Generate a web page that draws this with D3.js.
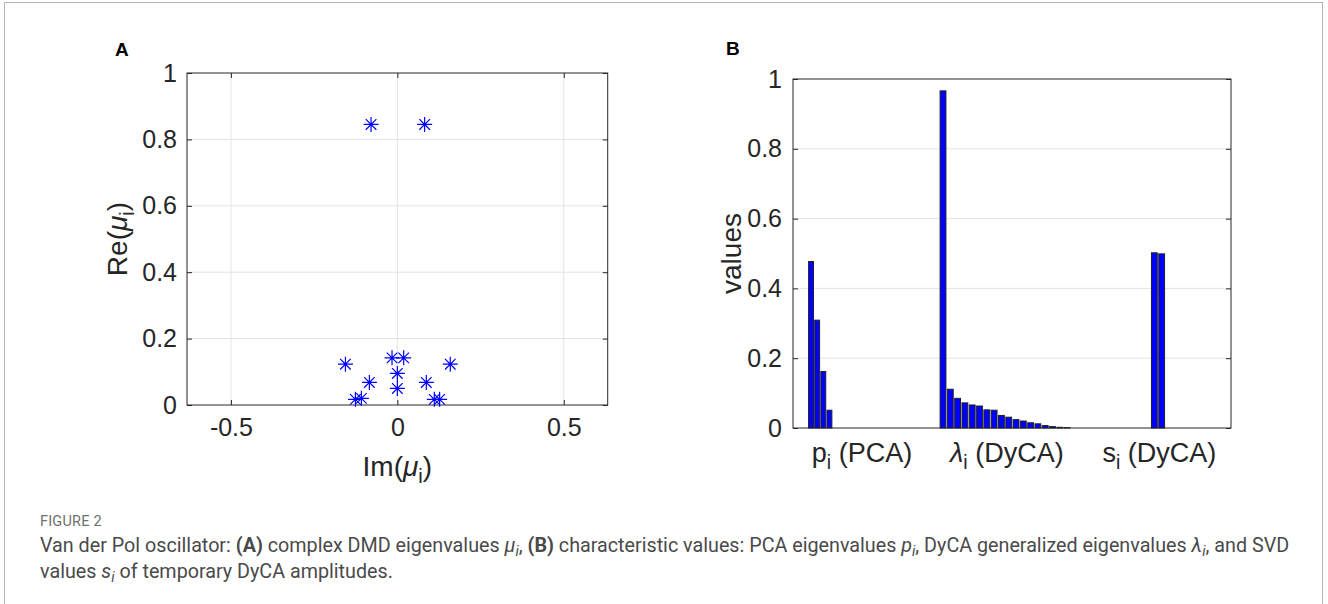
<!DOCTYPE html>
<html>
<head>
<meta charset="utf-8">
<script src="https://cdn.jsdelivr.net/npm/d3@7"></script>
<style>
  body { margin: 0; background: #fff; }
  svg { display: block; }
  .axis text { font-family: "Liberation Sans", Arial, Helvetica, sans-serif; fill: #262626; }
</style>
</head>
<body>
<div id="chart"></div>
<script>
"use strict";

// Panel A: complex DMD eigenvalues (x = imaginary part, y = real part)
const dmdIm = [-0.079, 0.082, -0.156, 0.159, -0.084, 0.087, -0.016, 0.019, 0.0, 0.0, -0.126, -0.108, 0.111, 0.127];
const dmdRe = [0.845, 0.845, 0.123, 0.123, 0.068, 0.068, 0.142, 0.142, 0.095, 0.050, 0.017, 0.020, 0.017, 0.017];
const aXTicks = [-0.5, 0, 0.5];
const aYTicks = [0, 0.2, 0.4, 0.6, 0.8, 1];

// Panel B: characteristic values
const pcaValues = [0.477, 0.309, 0.162, 0.051];
const dycaValues = [0.966, 0.111, 0.085, 0.072, 0.066, 0.063, 0.052, 0.051, 0.036, 0.031, 0.024, 0.020,
                    0.015, 0.012, 0.007, 0.004, 0.002, 0.001];
const svdValues = [0.502, 0.499];
const pcaStart = 2.47, pcaStep = 0.84;
const dycaStart = 20.55, dycaStep = 1;
const svdStart = 49.5, svdStep = 1;
const bYTicks = [0, 0.2, 0.4, 0.6, 0.8, 1];
const bXTickPos = [9.45, 29.3, 50.2];
const bXTickLabels = [
  [{t: "p"}, {t: "i", sub: true}, {t: " (PCA)"}],
  [{t: "λ", it: true}, {t: "i", sub: true}, {t: " (DyCA)"}],
  [{t: "s"}, {t: "i", sub: true}, {t: " (DyCA)"}]
];

const W = 1328, H = 604;
const axisColor = "#262626", gridColor = "#e3e3e3", blue = "#0000ff";
const font = '"Liberation Sans", Arial, Helvetica, sans-serif';

const svg = d3.select("#chart").append("svg")
    .attr("width", W)
    .attr("height", H);

// outer frame
svg.append("rect")
    .attr("x", 4.5).attr("y", 2.5)
    .attr("width", 1318).attr("height", 640)
    .attr("fill", "none")
    .attr("stroke", "#b4b4b4");

// writes mixed text (italic / bold / subscript parts) into a text element
function richText(sel, parts, size) {
  let shifted = false;
  parts.forEach(p => {
    const ts = sel.append("tspan").text(p.t);
    if (p.it) ts.style("font-style", "italic");
    if (p.b) ts.style("font-weight", "bold");
    if (p.sub) {
      ts.attr("class", "sub").attr("dy", size * 0.25).style("font-size", (size * 0.72) + "px");
      shifted = true;
    } else if (shifted) {
      ts.attr("dy", -size * 0.25);
      shifted = false;
    }
  });
}

// boxed MATLAB-like axes: grid, box and inward ticks on the far sides
function drawBox(g, x, y, xTicks, yTicks, xGrid) {
  const [x0, x1] = x.range();
  const [y0, y1] = y.range();

  g.append("g").selectAll("line").data(yTicks.filter(v => v > 0 && v < 1)).join("line")
      .attr("x1", x0).attr("x2", x1)
      .attr("y1", d => y(d)).attr("y2", d => y(d))
      .attr("stroke", gridColor);
  if (xGrid) {
    g.append("g").selectAll("line").data(xTicks).join("line")
        .attr("x1", d => x(d)).attr("x2", d => x(d))
        .attr("y1", y1).attr("y2", y0)
        .attr("stroke", gridColor);
  }

  g.append("g").attr("transform", "translate(" + x1 + ",0)")
      .call(d3.axisRight(y).tickValues(yTicks).tickSize(-5).tickFormat(""))
      .call(a => a.select(".domain").remove())
      .selectAll("line").attr("stroke", axisColor);
  if (xGrid) {
    g.append("g").attr("transform", "translate(0," + y1 + ")")
        .call(d3.axisTop(x).tickValues(xTicks).tickSize(-5).tickFormat(""))
        .call(a => a.select(".domain").remove())
        .selectAll("line").attr("stroke", axisColor);
  }

  g.append("rect")
      .attr("x", x0).attr("y", y1)
      .attr("width", x1 - x0).attr("height", y0 - y1)
      .attr("fill", "none")
      .attr("stroke", axisColor);
}

// ---------------- Panel A ----------------
const ax = d3.scaleLinear().domain([-0.632, 0.632]).range([187, 607.7]);
const ay = d3.scaleLinear().domain([0, 1]).range([405, 73]);
const gA = svg.append("g");
drawBox(gA, ax, ay, aXTicks, aYTicks, true);

gA.append("g").attr("class", "axis")
    .attr("transform", "translate(187,0)")
    .call(d3.axisLeft(ay).tickValues(aYTicks).tickSize(-5).tickPadding(10).tickFormat(d3.format("~g")))
    .call(a => a.select(".domain").remove())
    .call(a => a.selectAll("line").attr("stroke", axisColor))
    .selectAll("text").style("font-size", "25px");

gA.append("g").attr("class", "axis")
    .attr("transform", "translate(0,405)")
    .call(d3.axisBottom(ax).tickValues(aXTicks).tickSize(-5).tickPadding(13).tickFormat(d3.format("~g")))
    .call(a => a.select(".domain").remove())
    .call(a => a.selectAll("line").attr("stroke", axisColor))
    .selectAll("text").style("font-size", "25px").text(d => d < 0 ? "-" + Math.abs(d) : d);

// asterisk markers
const r = 7.5, rd = r * Math.SQRT1_2;
const star = "M0," + (-r) + "V" + r + "M" + (-r) + ",0H" + r +
    "M" + (-rd) + "," + (-rd) + "L" + rd + "," + rd + "M" + (-rd) + "," + rd + "L" + rd + "," + (-rd);
gA.append("g").selectAll("path").data(dmdIm.map((v, i) => [v, dmdRe[i]])).join("path")
    .attr("transform", d => "translate(" + ax(d[0]) + "," + ay(d[1]) + ")")
    .attr("d", star)
    .attr("fill", "none")
    .attr("stroke", blue)
    .attr("stroke-width", 1.2);

gA.append("text")
    .attr("x", ax(0)).attr("y", 476)
    .attr("text-anchor", "middle")
    .style("font-family", font).style("font-size", "28px").style("fill", axisColor)
    .call(t => richText(t, [{t: "Im("}, {t: "μ", it: true}, {t: "i", sub: true}, {t: ")"}], 28));

gA.append("text")
    .attr("transform", "translate(127," + ay(0.5) + ") rotate(-90)")
    .attr("text-anchor", "middle")
    .style("font-family", font).style("font-size", "28px").style("fill", axisColor)
    .call(t => richText(t, [{t: "Re("}, {t: "μ", it: true}, {t: "i", sub: true}, {t: ")"}], 28));

svg.append("text")
    .attr("x", 115).attr("y", 56)
    .style("font-family", font).style("font-size", "19px").style("font-weight", "bold")
    .text("A");

// ---------------- Panel B ----------------
const bx = d3.scaleLinear().domain([0, 60]).range([793, 1231]);
const by = d3.scaleLinear().domain([0, 1]).range([428, 79]);
const gB = svg.append("g");
drawBox(gB, bx, by, bXTickPos, bYTicks, false);

gB.append("g").attr("class", "axis")
    .attr("transform", "translate(793,0)")
    .call(d3.axisLeft(by).tickValues(bYTicks).tickSize(-5).tickPadding(11).tickFormat(d3.format("~g")))
    .call(a => a.select(".domain").remove())
    .call(a => a.selectAll("line").attr("stroke", axisColor))
    .selectAll("text").style("font-size", "25px");

const bars = [];
pcaValues.forEach((v, i) => bars.push({x: pcaStart + i * pcaStep, w: pcaStep * 0.8, v: v}));
dycaValues.forEach((v, i) => bars.push({x: dycaStart + i * dycaStep, w: dycaStep * 0.8, v: v}));
svdValues.forEach((v, i) => bars.push({x: svdStart + i * svdStep, w: svdStep * 0.8, v: v}));

gB.append("g").selectAll("rect").data(bars).join("rect")
    .attr("x", d => bx(d.x - d.w / 2))
    .attr("width", d => bx(d.x + d.w / 2) - bx(d.x - d.w / 2))
    .attr("y", d => by(d.v))
    .attr("height", d => by(0) - by(d.v))
    .attr("fill", blue)
    .attr("stroke", "#222")
    .attr("stroke-width", 1);

gB.append("g").selectAll("text").data(bXTickPos).join("text")
    .attr("x", d => bx(d)).attr("y", 462)
    .attr("text-anchor", "middle")
    .style("font-family", font).style("font-size", "27px").style("fill", axisColor)
    .each(function(d, i) { richText(d3.select(this), bXTickLabels[i], 27); });

gB.append("text")
    .attr("transform", "translate(741," + by(0.5) + ") rotate(-90)")
    .attr("text-anchor", "middle")
    .style("font-family", font).style("font-size", "28px").style("fill", axisColor)
    .text("values");

svg.append("text")
    .attr("x", 726).attr("y", 55)
    .style("font-family", font).style("font-size", "19px").style("font-weight", "bold")
    .text("B");

// ---------------- Caption ----------------
const capFont = 'Roboto, "Noto Sans", sans-serif';
svg.append("text")
    .attr("x", 40).attr("y", 526)
    .style("font-family", capFont).style("font-size", "14.5px").style("fill", "#6f6f6f")
    .style("letter-spacing", "0.2px")
    .text("FIGURE 2");

const line1 = svg.append("text")
    .attr("x", 40).attr("y", 552)
    .style("font-family", capFont).style("font-size", "16px").style("fill", "#4a4a4a");
richText(line1, [
  {t: "Van der Pol oscillator: "}, {t: "(A)", b: true}, {t: " complex DMD eigenvalues "},
  {t: "μ", it: true}, {t: "i", sub: true, it: true}, {t: ", "}, {t: "(B)", b: true},
  {t: " characteristic values: PCA eigenvalues "}, {t: "p", it: true}, {t: "i", sub: true, it: true},
  {t: ", DyCA generalized eigenvalues "}, {t: "λ", it: true}, {t: "i", sub: true, it: true},
  {t: ", and SVD"}
], 16);

const line2 = svg.append("text")
    .attr("x", 40).attr("y", 578)
    .style("font-family", capFont).style("font-size", "16px").style("fill", "#4a4a4a");
richText(line2, [
  {t: "values "}, {t: "s", it: true}, {t: "i", sub: true, it: true}, {t: " of temporary DyCA amplitudes."}
], 16);

// fit the caption to the width of the original line
const k = 1250 / line1.node().getComputedTextLength();
[line1, line2].forEach(l => {
  l.style("font-size", (16 * k) + "px");
  l.selectAll("tspan.sub").style("font-size", (16 * k * 0.72) + "px");
});
</script>
</body>
</html>
